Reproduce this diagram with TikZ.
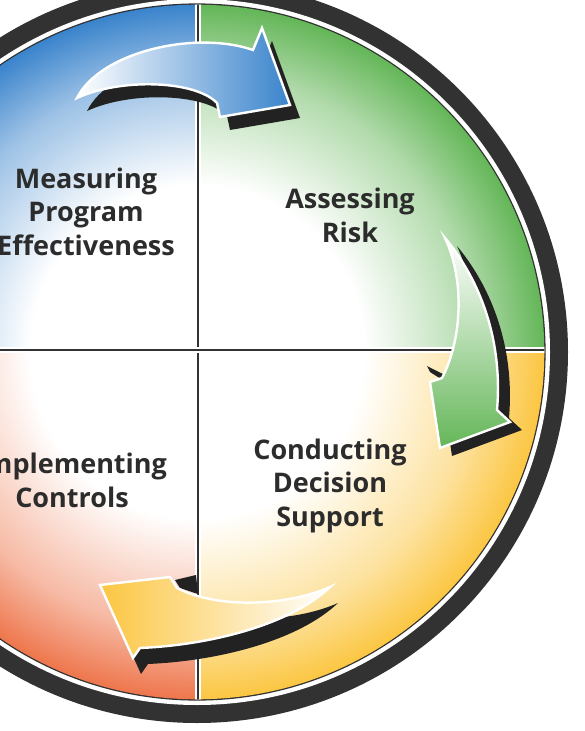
\documentclass[tikz,border=0pt]{standalone}
\usepackage{fontspec}
\newfontfamily\quadfont{Open Sans}
\definecolor{ringgray}{RGB}{50,50,50}
\definecolor{labelgray}{RGB}{44,44,44}
\definecolor{shadowgray}{RGB}{34,34,34}
\definecolor{qblue}{RGB}{58,132,204}
\definecolor{qgreen}{RGB}{100,182,88}
\definecolor{qyellow}{RGB}{251,198,66}
\definecolor{qorange}{RGB}{238,118,76}
\pgfdeclareradialshading{blueshade}{\pgfpoint{0bp}{0bp}}{color(0bp)=(white); color(12bp)=(white); color(20bp)=(qblue!50); color(25bp)=(qblue); color(50bp)=(qblue)}
\pgfdeclareradialshading{greenshade}{\pgfpoint{0bp}{0bp}}{color(0bp)=(white); color(12bp)=(white); color(20bp)=(qgreen!50); color(25bp)=(qgreen); color(50bp)=(qgreen)}
\pgfdeclareradialshading{yellowshade}{\pgfpoint{0bp}{0bp}}{color(0bp)=(white); color(12bp)=(white); color(20bp)=(qyellow!50); color(25bp)=(qyellow); color(50bp)=(qyellow)}
\pgfdeclareradialshading{orangeshade}{\pgfpoint{0bp}{0bp}}{color(0bp)=(white); color(12bp)=(white); color(20bp)=(qorange!50); color(25bp)=(qorange); color(50bp)=(qorange)}
\tikzset{
  quadlabel/.style={font=\quadfont\bfseries\fontsize{27}{33.5}\selectfont, text=labelgray, align=center, anchor=base, inner sep=0pt},
  divider/.style={draw=ringgray, line width=2.5pt, preaction={draw=white, line width=6pt}},
  arrowshadow/.style={fill=shadowgray},
  arrowbody/.style={draw=white, line width=2.4pt, line join=miter}
}
\newcommand\bluearrowpath{(77,98) .. controls (100,52) and (195,30) .. (253,50) -- (262,28) -- (290,105) -- (220,117) -- (217,103) .. controls (195,80) and (120,78) .. (77,98) -- cycle}
\newcommand\greenarrowpath{(445,238) .. controls (480,280) and (503,340) .. (497,410) -- (510,422) -- (440,448) -- (430,382) -- (442,378) .. controls (462,340) and (465,280) .. (445,238) -- cycle}
\newcommand\yellowarrowpath{(330,587) .. controls (290,605) and (220,610) .. (177,588) -- (170,577) -- (100,585) -- (133,658) -- (140,648) .. controls (210,645) and (290,625) .. (330,587) -- cycle}
\begin{document}
\begin{tikzpicture}[x=1pt,y=-1pt]
\useasboundingbox (0,0) rectangle (584,731);
\fill[white] (0,0) rectangle (584,731);
\clip (0,0) rectangle (584,731);
\coordinate (ctr) at (197,352);
% rim
\fill[ringgray] (ctr) circle (371);
\fill[white] (ctr) circle (353);
\fill[ringgray] (ctr) circle (348.6);
% quadrants
\begin{scope}
\clip (ctr) circle (347.3);
\begin{scope}
\clip (198,350) rectangle (-200,-50);
\shade[shading=blueshade] (ctr) circle (347.3);
\end{scope}
\begin{scope}
\clip (198,350) rectangle (600,-50);
\shade[shading=greenshade] (ctr) circle (347.3);
\end{scope}
\begin{scope}
\clip (198,350) rectangle (600,750);
\shade[shading=yellowshade] (ctr) circle (347.3);
\end{scope}
\begin{scope}
\clip (198,350) rectangle (-200,750);
\shade[shading=orangeshade] (ctr) circle (347.3);
\end{scope}
\draw[divider] (198,0) -- (198,710);
\draw[divider] (-160,350) -- (560,350);
\end{scope}
\node[quadlabel] (measuring) at (86,255) {Measuring\\Program\\Effectiveness};
\node[quadlabel] (assessing) at (350,242) {Assessing\\Risk};
\node[quadlabel] (conducting) at (330,526) {Conducting\\Decision\\Support};
\node[quadlabel] (implementing) at (72,507) {Implementing\\Controls};
% arrows
\fill[arrowshadow, shift={(10,13)}] \bluearrowpath;
\shade[arrowbody, left color=white, right color=qblue] \bluearrowpath;
\fill[arrowshadow, shift={(12,8)}] \greenarrowpath;
\fill[shadowgray] (427,366) -- (443,374) -- (441,379) -- (430,372) -- cycle;
\shade[arrowbody, top color=white, bottom color=qgreen] \greenarrowpath;
\fill[arrowshadow, shift={(8,16)}] \yellowarrowpath;
\fill[shadowgray] (175,580) -- (196,575) -- (198,594) -- (180,588) -- cycle;
\shade[arrowbody, left color=qyellow, right color=white] \yellowarrowpath;
\end{tikzpicture}
\end{document}
